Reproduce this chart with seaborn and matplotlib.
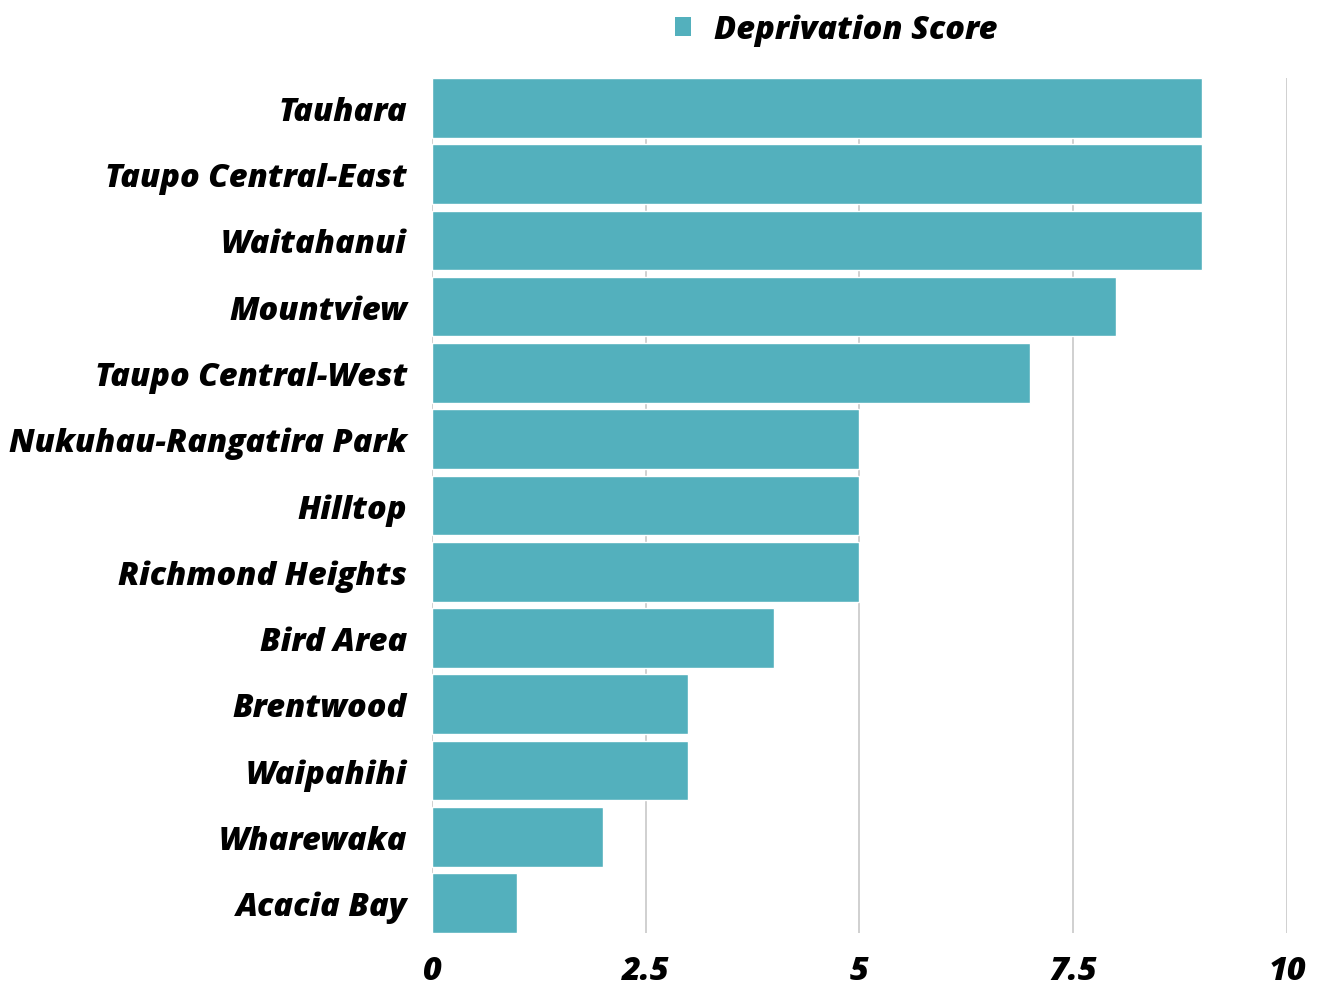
import pandas as pd
import seaborn as sns
from matplotlib import pyplot as plt
from matplotlib.patches import Patch

areas = [
    "Tauhara",
    "Taupo Central-East",
    "Waitahanui",
    "Mountview",
    "Taupo Central-West",
    "Nukuhau-Rangatira Park",
    "Hilltop",
    "Richmond Heights",
    "Bird Area",
    "Brentwood",
    "Waipahihi",
    "Wharewaka",
    "Acacia Bay",
]
scores = [9, 9, 9, 8, 7, 5, 5, 5, 4, 3, 3, 2, 1]
x_ticks = [0, 2.5, 5, 7.5, 10]
x_tick_labels = ["0", "2.5", "5", "7.5", "10"]

BAR_COLOR = "#53b0bd"
FONT_SIZE = 23.4


def main() -> None:
    df = pd.DataFrame({"area": areas, "score": scores})

    sns.set_theme(style="white")
    plt.rcParams["font.family"] = ["Open Sans", "DejaVu Sans"]

    fig = plt.figure(figsize=(13.23, 9.87), dpi=100)
    ax = fig.add_axes([0.3265, 0.0537, 0.6463, 0.8663])

    sns.barplot(data=df, x="score", y="area", color=BAR_COLOR, width=0.9,
                saturation=1, ax=ax, zorder=2)

    ax.set_xlim(0, 10)
    ax.set_ylim(len(areas) - 0.55, -0.45)
    ax.set_xticks(x_ticks)
    ax.set_xticklabels(x_tick_labels)
    ax.grid(axis="x", color="#c8c8c8", linewidth=1.2, zorder=0)
    ax.set_axisbelow(True)
    for s in ax.spines.values():
        s.set_visible(False)
    ax.tick_params(axis="both", length=0)
    ax.tick_params(axis="y", pad=18)
    ax.tick_params(axis="x", pad=16)
    for lab in ax.get_yticklabels() + ax.get_xticklabels():
        lab.set_fontsize(FONT_SIZE)
        lab.set_fontweight(800)
        lab.set_fontstyle("italic")
        lab.set_color("#000000")
    ax.set_xlabel("")
    ax.set_ylabel("")

    handle = Patch(facecolor=BAR_COLOR, edgecolor="none", label="Deprivation Score")
    fig.legend(handles=[handle], loc="center", bbox_to_anchor=(0.632, 0.969),
               frameon=False, handlelength=0.5, handleheight=0.5, handletextpad=0.7,
               prop={"size": FONT_SIZE, "weight": 800, "style": "italic"},
               labelcolor="#000000")

    fig.savefig("out.png", dpi=100)


if __name__ == "__main__":
    main()
